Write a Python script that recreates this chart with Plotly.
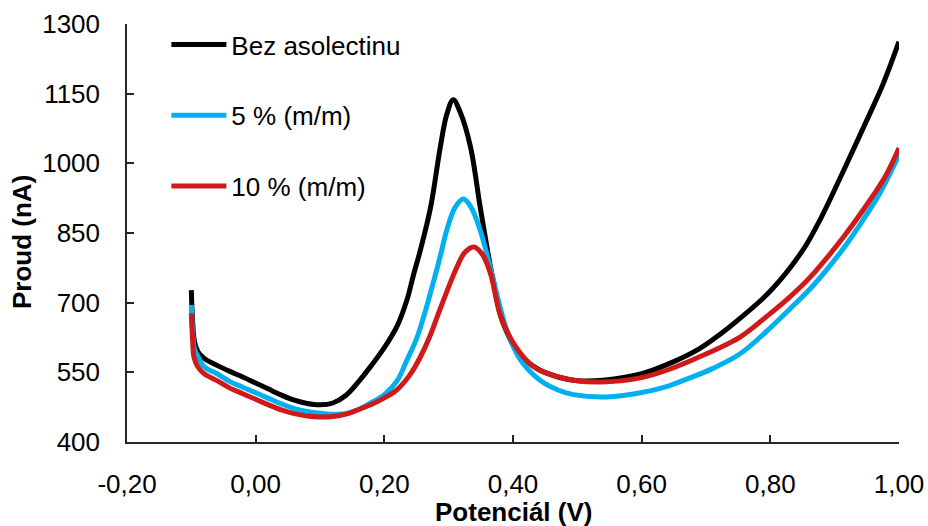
import plotly.graph_objects as go

# ---- data ----
series_names = ["Bez asolectinu", "5 % (m/m)", "10 % (m/m)"]

x_black = [-0.100, -0.098, -0.095, -0.090, -0.080, -0.060, -0.040, -0.020, 0.000, 0.020,
           0.040, 0.060, 0.080, 0.100, 0.120, 0.140, 0.160, 0.180, 0.200, 0.220,
           0.235, 0.245, 0.256, 0.272, 0.287, 0.297, 0.307, 0.318, 0.334, 0.349,
           0.365, 0.372, 0.380, 0.390, 0.400, 0.420, 0.440, 0.470, 0.500, 0.540,
           0.600, 0.650, 0.690, 0.720, 0.750, 0.800, 0.850, 0.880, 0.913, 0.950, 0.975, 1.000]
y_black = [727, 660, 615, 595, 580, 565, 552, 540, 527, 514,
           501, 490, 483, 480, 484, 500, 530, 565, 603, 650,
           705, 758, 813, 906, 1035, 1105, 1137, 1110, 1035, 906,
           777, 730, 675, 638, 610, 576, 556, 540, 532, 533,
           547, 573, 601, 630, 663, 725, 812, 886, 982, 1093, 1170, 1262]

x_blue = [-0.100, -0.098, -0.095, -0.090, -0.080, -0.060, -0.040, -0.020, 0.000, 0.020,
          0.040, 0.060, 0.080, 0.100, 0.120, 0.140, 0.160, 0.180, 0.200, 0.220,
          0.235, 0.250, 0.261, 0.277, 0.287, 0.297, 0.310, 0.323, 0.335, 0.349,
          0.367, 0.380, 0.391, 0.411, 0.442, 0.470, 0.494, 0.546, 0.598, 0.640,
          0.675, 0.710, 0.753, 0.794, 0.830, 0.862, 0.890, 0.919, 0.945, 0.970, 1.000]
y_blue = [695, 640, 600, 585, 562, 547, 530, 518, 506, 494,
          482, 472, 466, 462, 460, 461, 470, 485, 502, 532,
          576, 622, 669, 748, 800, 856, 905, 923, 905, 856,
          763, 690, 638, 578, 533, 512, 502, 497, 506, 520,
          538, 558, 590, 638, 686, 730, 775, 827, 880, 935, 1018]

x_red = [-0.100, -0.098, -0.096, -0.090, -0.080, -0.060, -0.040, -0.020, 0.000, 0.020,
         0.040, 0.060, 0.080, 0.100, 0.120, 0.140, 0.160, 0.183, 0.200, 0.220,
         0.240, 0.256, 0.270, 0.282, 0.302, 0.313, 0.325, 0.339, 0.352, 0.365,
         0.380, 0.401, 0.432, 0.471, 0.494, 0.536, 0.598, 0.640, 0.691, 0.753,
         0.794, 0.830, 0.862, 0.914, 0.955, 0.980, 1.000]
y_red = [677, 620, 583, 562, 547, 532, 516, 504, 492, 480,
         469, 461, 456, 454, 455, 460, 470, 483, 495, 513,
         545, 583, 625, 669, 741, 777, 808, 820, 805, 763,
         675, 612, 562, 540, 533, 529, 538, 555, 584, 626,
         670, 712, 755, 842, 921, 975, 1033]

x_tickvals = [-0.2, 0.0, 0.2, 0.4, 0.6, 0.8, 1.0]
x_ticktext = ["-0,20", "0,00", "0,20", "0,40", "0,60", "0,80", "1,00"]
y_tickvals = [400, 550, 700, 850, 1000, 1150, 1300]
y_ticktext = ["400", "550", "700", "850", "1000", "1150", "1300"]

colors = ["#000000", "#00B0F0", "#D01A1A"]
FONT = "Liberation Sans, Arial, sans-serif"

fig = go.Figure()
for i, (xs, ys) in enumerate([(x_black, y_black), (x_blue, y_blue), (x_red, y_red)]):
    fig.add_trace(go.Scatter(
        x=xs, y=ys, mode="lines", name=series_names[i], legendgroup=str(i),
        line=dict(color=colors[i], width=5, shape="spline", smoothing=1.0),
    ))

axis_common = dict(
    showgrid=False, zeroline=False, showline=True, linecolor="#262626", linewidth=1.5,
    ticks="inside", ticklen=7, tickwidth=1.5, tickcolor="#262626", automargin=False,
    tickfont=dict(family=FONT, size=26, color="#000000"), mirror=False,
)
fig.update_xaxes(range=[-0.2, 1.0], tickmode="array", tickvals=x_tickvals,
                 ticktext=x_ticktext, ticklabelstandoff=18, **axis_common)
fig.update_yaxes(range=[400, 1300], tickmode="array", tickvals=y_tickvals,
                 ticktext=y_ticktext, ticklabelstandoff=20, **axis_common)

fig.update_layout(
    width=928, height=526,
    margin=dict(l=127, r=29, t=24, b=84, autoexpand=False),
    paper_bgcolor="white", plot_bgcolor="white",
    font=dict(family=FONT, size=26, color="#000000"),
    showlegend=True,
    legend=dict(x=0.051, y=1.007, xanchor="left", yanchor="top",
                traceorder="grouped", tracegroupgap=34, itemwidth=55,
                bgcolor="rgba(0,0,0,0)", font=dict(family=FONT, size=26)),
    annotations=[
        dict(text="<b>Potenciál (V)</b>", xref="paper", yref="paper",
             x=0.5, y=(442 - 512) / 418, xanchor="center", yanchor="middle",
             showarrow=False, font=dict(family=FONT, size=26)),
        dict(text="<b>Proud (nA)</b>", xref="paper", yref="paper",
             x=(22 - 127) / 772, y=(442 - 242) / 418, xanchor="center", yanchor="middle",
             textangle=-90, showarrow=False, font=dict(family=FONT, size=26)),
    ],
)

fig.write_html(
    "out.html",
    config={"displayModeBar": False},
    post_script="document.body.style.margin='0';document.body.style.overflow='hidden';",
)
